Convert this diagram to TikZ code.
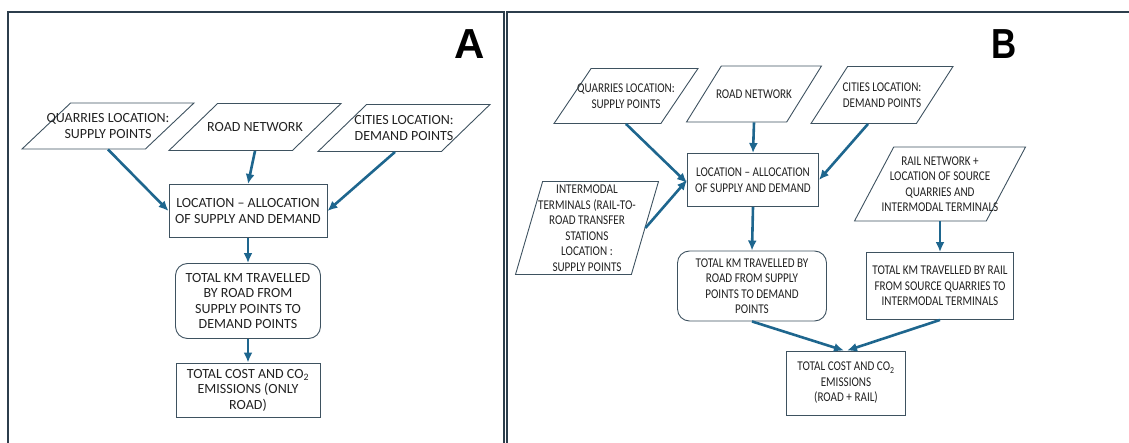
\documentclass[tikz,border=0pt]{standalone}
\usepackage{fontspec}
\setmainfont{Carlito}
\newfontfamily\narrowfont[FakeStretch=0.83]{Carlito}
\newfontfamily\letterfont{Liberation Sans}
\newfontfamily\narrowletter[FakeStretch=0.83]{Liberation Sans}
\usetikzlibrary{shapes.geometric,arrows.meta}
\definecolor{arrowblue}{RGB}{30,102,142}
\definecolor{boxline}{RGB}{62,82,96}
\definecolor{frameline}{RGB}{44,62,76}
\definecolor{txtgray}{RGB}{34,34,34}

\begin{document}
\begin{tikzpicture}[x=1pt,y=-1pt,
        inbox/.style={trapezium,trapezium stretches=true,trapezium left angle=#1,trapezium right angle=180-#1,
            draw=boxline,line width=0.9pt,inner sep=2pt},
        inbox/.default=57,
        boxtext/.style={align=center,text=txtgray,inner sep=0pt},
        stepbox/.style={rectangle,draw=boxline,line width=0.9pt,align=center,text=txtgray,inner sep=0pt},
        kmbox/.style={stepbox,rounded corners=12pt},
        flow/.style={draw=arrowblue,line width=2.6pt,-{Latex[length=10pt,width=9pt]}}]
        \useasboundingbox (0,0) rectangle (1129,443);
        \clip (0,0) rectangle (1129,443);

        % frames
        \draw[color=frameline,line width=1.8pt] (8,470) -- (8,12) -- (504,12) -- (504,470);
        \draw[color=frameline,line width=1.8pt] (507,470) -- (507,12) -- (1140,12);
        \node[inner sep=0pt,font=\letterfont\bfseries\fontsize{42}{42}\selectfont] (lblA) at (470,44) {A};
        \node[inner sep=0pt,font=\narrowletter\bfseries\fontsize{42}{42}\selectfont] (lblB) at (1004,44) {B};

        % panel A: road only
        \begin{scope}[font=\fontsize{14}{15.5}\selectfont]
        \node[inbox,minimum width=172pt,minimum height=46pt,
            label={[boxtext]center:QUARRIES LOCATION:\\SUPPLY POINTS}] (qa) at (108,126) {};
        \node[inbox,minimum width=172pt,minimum height=47pt,
            label={[boxtext]center:ROAD NETWORK}] (ra) at (255,127) {};
        \node[inbox,minimum width=172pt,minimum height=47pt,
            label={[boxtext]center:CITIES LOCATION:\\DEMAND POINTS}] (ca) at (404,128) {};
        \node[stepbox,minimum width=158pt,minimum height=53pt] (la) at (248,211) {LOCATION – ALLOCATION\\OF SUPPLY AND DEMAND};
        \node[kmbox,minimum width=145pt,minimum height=75pt] (ka) at (248,301) {TOTAL KM TRAVELLED\\BY ROAD FROM\\SUPPLY POINTS TO\\DEMAND POINTS};
        \node[stepbox,minimum width=144pt,minimum height=54pt] (ta) at (248,390) {TOTAL COST AND CO\textsubscript{2}\\EMISSIONS (ONLY\\ROAD)};
        \end{scope}
        \draw[flow] (qa.south) -- (la.west);
        \draw[flow] (ra.south) -- (la.north);
        \draw[flow] ([xshift=-9pt]ca.south) -- (la.east);
        \draw[flow] (la.south) -- (ka.north);
        \draw[flow] (ka.south) -- (ta.north);

        % panel B: road + rail
        \begin{scope}[font=\narrowfont\fontsize{13.4}{15.5}\selectfont]
        \node[inbox=62,minimum width=144pt,minimum height=55pt,
            label={[boxtext]center:QUARRIES LOCATION:\\SUPPLY POINTS}] (qb) at (626,96) {};
        \node[inbox=62,minimum width=135pt,minimum height=56pt,
            label={[boxtext]center:ROAD NETWORK}] (rb) at (754,94) {};
        \node[inbox=62,minimum width=142pt,minimum height=57pt,
            label={[boxtext]center:CITIES LOCATION:\\DEMAND POINTS}] (cb) at (882,95) {};
        \node[inbox=73,minimum width=143pt,minimum height=93pt,
            label={[boxtext]center:INTERMODAL\\TERMINALS (RAIL-TO-\\ROAD TRANSFER\\STATIONS\\LOCATION :\\SUPPLY POINTS}] (ib) at (587,228) {};
        \node[inbox=67,minimum width=171pt,minimum height=74pt,
            label={[boxtext]center:RAIL NETWORK +\\LOCATION OF SOURCE\\QUARRIES AND\\INTERMODAL TERMINALS}] (nb) at (940,184) {};
        \node[stepbox,minimum width=131pt,minimum height=53pt] (lb) at (753,180) {LOCATION – ALLOCATION\\OF SUPPLY AND DEMAND};
        \node[kmbox,minimum width=149pt,minimum height=70pt] (kb) at (752,286) {TOTAL KM TRAVELLED BY\\ROAD FROM SUPPLY\\POINTS TO DEMAND\\POINTS};
        \node[stepbox,minimum width=147pt,minimum height=67pt] (kr) at (940,286) {TOTAL KM TRAVELLED BY RAIL\\FROM SOURCE QUARRIES TO\\INTERMODAL TERMINALS};
        \node[stepbox,minimum width=119pt,minimum height=64pt] (tb) at (846,383) {TOTAL COST AND CO\textsubscript{2}\\EMISSIONS\\(ROAD + RAIL)};
        \end{scope}
        \draw[flow] (qb.south) -- ([yshift=-3pt]lb.west);
        \draw[flow] (rb.south) -- (lb.north);
        \draw[flow] ([xshift=-14pt]cb.south) -- (lb.east);
        \draw[flow] (ib.east) -- (lb.west);
        \draw[flow] (lb.south) -- (kb.north);
        \draw[flow] (nb.south) -- (kr.north);
        \draw[flow] (kb.south) -- ([xshift=-2pt]tb.north);
        \draw[flow] (kr.south) -- ([xshift=1pt]tb.north);
    \end{tikzpicture}
\end{document}
